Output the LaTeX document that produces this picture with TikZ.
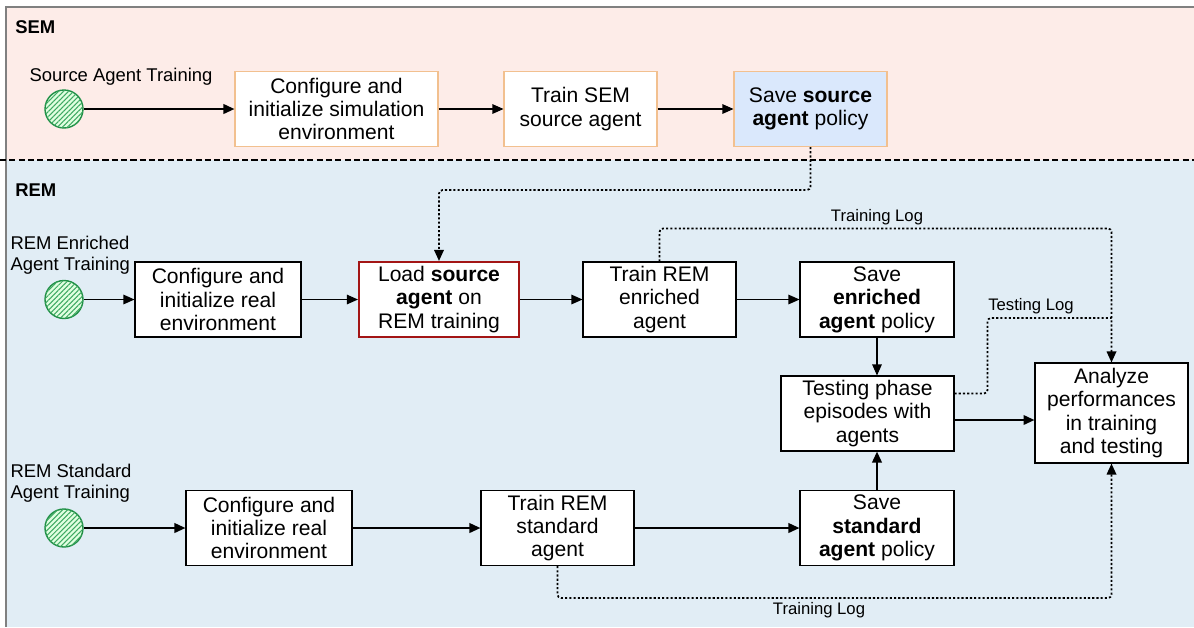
\documentclass[tikz,border=0pt]{standalone}
\usepackage{fontspec}
\setmainfont{Liberation Sans}
\usepackage{tikz}
\usetikzlibrary{arrows.meta,patterns.meta,positioning}

\definecolor{semback}{HTML}{FDECE8}
\definecolor{remback}{HTML}{E1EDF5}
\definecolor{semline}{HTML}{F2C08F}
\definecolor{savefill}{HTML}{DAE8FC}
\definecolor{loadline}{HTML}{A31515}
\definecolor{startline}{HTML}{1F8F45}
\definecolor{starthatch}{HTML}{3DA862}

\begin{document}
\begin{tikzpicture}[x=0.02cm, y=-0.02cm, >={Triangle[length=2.2mm,width=1.9mm]}, font=\fontsize{12}{13.3}\selectfont]
			\tikzstyle{box} = [draw, line width=0.6pt, fill=white, align=center, minimum height=1.5cm, inner sep=2pt, execute at begin node={\rule{0pt}{15.5pt}}]
			\tikzstyle{sembox} = [box, draw=semline]
			\tikzstyle{start} = [draw=startline, circle, line width=0.8pt, fill=green!12, minimum size=0.76cm, inner sep=0pt, postaction={pattern={Lines[angle=45,distance=2pt,line width=0.6pt]}, pattern color=starthatch}]
			\tikzstyle{lbl} = [font=\fontsize{10.5}{12}\selectfont, align=left, inner sep=0pt]
			\tikzstyle{loglbl} = [font=\fontsize{9.5}{11}\selectfont, inner sep=0pt]
			\tikzstyle{part} = [font=\fontsize{10.5}{12}\selectfont\bfseries, anchor=west, inner sep=0pt]
			\tikzstyle{thin} = [line width=0.6pt]
			\tikzstyle{heavy} = [line width=1.2pt]
			\tikzstyle{logline} = [line width=1pt, dash pattern=on 1.2pt off 1.2pt, rounded corners=2pt]

			\useasboundingbox (0,0) rectangle (1194,627);
			\fill[semback] (6,7) rectangle (1194,160);
			\fill[remback] (6,160) rectangle (1194,627);
			\draw[gray, line width=0.6pt] (1194,7) -- (6,7) -- (6,627);
			\draw[line width=1pt, dash pattern=on 3.5pt off 1.8pt] (0,160) -- (1194,160);

			\node[part] (sem) at (15,27) {SEM};
			\node[part] (rem) at (15,190) {REM};

			\begin{scope}
			\path[->, thin]

			node[start] (s1) at (64,109) {}
			node[lbl] (s1txt) at (121,77) {Source Agent Training}
			node[sembox, minimum width=4.06cm] (simenv) at (336.5,109) {Configure and\\initialize simulation\\environment}
			node[sembox, minimum width=3.06cm] (semtrain) at (580.5,109) {Train SEM\\source agent}
			node[sembox, fill=savefill, minimum width=3.06cm] (savesrc) at (810.5,109) {Save \textbf{source}\\\textbf{agent} policy}

			node[start] (s2) at (64,299.5) {}
			node[lbl, anchor=west] (s2txt) at (10,255.5) {REM Enriched\\Agent Training}
			node[box, minimum width=3.32cm] (realenv1) at (218,299.5) {Configure and\\initialize real\\environment}
			node[box, draw=loadline, line width=1.2pt, minimum width=3.2cm] (load) at (439,299.5) {Load \textbf{source}\\\textbf{agent} on\\REM training}
			node[box, minimum width=3.06cm] (enrtrain) at (659.5,299.5) {Train REM\\enriched\\agent}
			node[box, minimum width=3.08cm] (saveenr) at (877,299.5) {Save\\\textbf{enriched}\\\textbf{agent} policy}

			node[box, minimum width=3.46cm] (test) at (867.5,413.5) {Testing phase\\episodes with\\agents}
			node[box, minimum width=3.06cm, minimum height=2cm] (analyze) at (1111.5,413) {Analyze\\performances\\in training\\and testing}

			node[start] (s3) at (64,528) {}
			node[lbl, anchor=west] (s3txt) at (10,483.5) {REM Standard\\Agent Training}
			node[box, minimum width=3.32cm] (realenv2) at (269,528) {Configure and\\initialize real\\environment}
			node[box, minimum width=3.06cm] (stdtrain) at (557.5,528) {Train REM\\standard\\agent}
			node[box, minimum width=3.08cm] (savestd) at (877,528) {Save\\\textbf{standard}\\\textbf{agent} policy}

			(s1) edge[heavy] (simenv)
			(simenv) edge (semtrain)
			(semtrain) edge (savesrc)
			(s2) edge (realenv1)
			(realenv1) edge (load)
			(load) edge (enrtrain)
			(enrtrain) edge (saveenr)
			(saveenr.south) edge (saveenr.south |- test.north)
			(s3) edge[heavy] (realenv2)
			(realenv2) edge[heavy] (stdtrain)
			(stdtrain) edge[heavy] (savestd)
			(savestd.north) edge[heavy] (savestd.north |- test.south)
			;
			\end{scope}

			\draw[->, heavy] ([yshift=-0.13cm]test.east) -- ([yshift=-0.13cm]test.east -| analyze.west);

			\coordinate (join) at (1111.5,318);
			\draw[logline, ->] (savesrc.south) -- ++(0,43) -| (load.north);
			\draw[logline, ->] (enrtrain.north) -- ++(0,-33) -| (analyze.north);
			\draw[logline] ([yshift=0.4cm]test.east) -- ++(33,0) |- (join);
			\draw[logline, ->] (stdtrain.south) -- ++(0,32) -| (analyze.south);

			\node[loglbl] (log1) at (877,217) {Training Log};
			\node[loglbl] (log2) at (1031,306) {Testing Log};
			\node[loglbl] (log3) at (819,610) {Training Log};

\end{tikzpicture}
\end{document}
